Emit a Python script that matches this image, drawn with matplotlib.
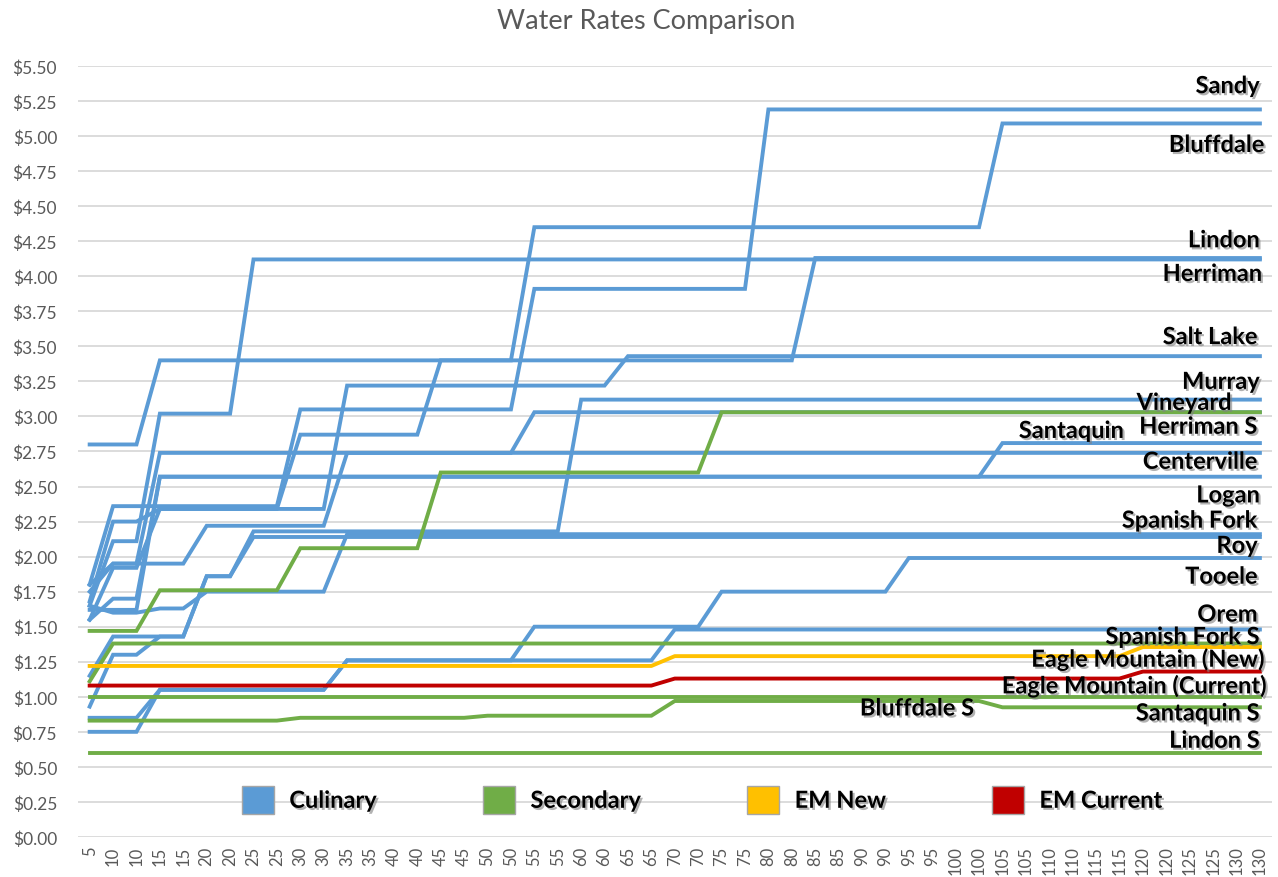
import matplotlib
matplotlib.use("Agg")
import matplotlib.pyplot as plt
import matplotlib.patheffects as pe
from matplotlib.patches import Patch

# category axis: 5, then every level twice
categories = ["5", "10", "10", "15", "15", "20", "20", "25", "25", "30", "30",
              "35", "35", "40", "40", "45", "45", "50", "50", "55", "55",
              "60", "60", "65", "65", "70", "70", "75", "75", "80", "80",
              "85", "85", "90", "90", "95", "95", "100", "100", "105", "105",
              "110", "110", "115", "115", "120", "120", "125", "125", "130", "130"]

# rate per level (5, 10, 15 ... 130)
levels = ["5", "10", "15", "20", "25", "30", "35", "40", "45", "50", "55", "60", "65",
          "70", "75", "80", "85", "90", "95", "100", "105", "110", "115", "120", "125", "130"]

sandy = [1.80, 2.36, 2.36, 2.36, 2.36, 3.05, 3.05, 3.05, 3.05, 3.05, 3.91, 3.91, 3.91,
         3.91, 3.91, 5.19, 5.19, 5.19, 5.19, 5.19, 5.19, 5.19, 5.19, 5.19, 5.19, 5.19]
bluffdale = [2.80, 2.80, 3.40, 3.40, 3.40, 3.40, 3.40, 3.40, 3.40, 3.40, 4.35, 4.35, 4.35,
             4.35, 4.35, 4.35, 4.35, 4.35, 4.35, 4.35, 5.09, 5.09, 5.09, 5.09, 5.09, 5.09]
lindon = [1.65, 2.11, 3.02, 3.02, 4.12, 4.12, 4.12, 4.12, 4.12, 4.12, 4.12, 4.12, 4.12,
          4.12, 4.12, 4.12, 4.12, 4.12, 4.12, 4.12, 4.12, 4.12, 4.12, 4.12, 4.12, 4.12]
herriman = [1.68, 2.25, 2.34, 2.34, 2.34, 2.87, 2.87, 2.87, 3.40, 3.40, 3.40, 3.40, 3.40,
            3.40, 3.40, 3.40, 4.13, 4.13, 4.13, 4.13, 4.13, 4.13, 4.13, 4.13, 4.13, 4.13]
salt_lake = [1.55, 1.92, 2.34, 2.34, 2.34, 2.34, 3.22, 3.22, 3.22, 3.22, 3.22, 3.22, 3.43,
             3.43, 3.43, 3.43, 3.43, 3.43, 3.43, 3.43, 3.43, 3.43, 3.43, 3.43, 3.43, 3.43]
murray = [0.93, 1.30, 1.43, 1.86, 2.18, 2.18, 2.18, 2.18, 2.18, 2.18, 2.18, 3.12, 3.12,
          3.12, 3.12, 3.12, 3.12, 3.12, 3.12, 3.12, 3.12, 3.12, 3.12, 3.12, 3.12, 3.12]
vineyard = [1.80, 1.95, 1.95, 2.22, 2.22, 2.22, 2.74, 2.74, 2.74, 2.74, 3.03, 3.03, 3.03,
            3.03, 3.03, 3.03, 3.03, 3.03, 3.03, 3.03, 3.03, 3.03, 3.03, 3.03, 3.03, 3.03]
santaquin = [1.62, 1.62, 2.57, 2.57, 2.57, 2.57, 2.57, 2.57, 2.57, 2.57, 2.57, 2.57, 2.57,
             2.57, 2.57, 2.57, 2.57, 2.57, 2.57, 2.57, 2.81, 2.81, 2.81, 2.81, 2.81, 2.81]
centerville = [1.75, 1.95, 2.74, 2.74, 2.74, 2.74, 2.74, 2.74, 2.74, 2.74, 2.74, 2.74, 2.74,
               2.74, 2.74, 2.74, 2.74, 2.74, 2.74, 2.74, 2.74, 2.74, 2.74, 2.74, 2.74, 2.74]
logan = [1.55, 1.70, 2.57, 2.57, 2.57, 2.57, 2.57, 2.57, 2.57, 2.57, 2.57, 2.57, 2.57,
         2.57, 2.57, 2.57, 2.57, 2.57, 2.57, 2.57, 2.57, 2.57, 2.57, 2.57, 2.57, 2.57]
spanish_fork = [1.65, 1.60, 1.63, 1.75, 1.75, 1.75, 2.16, 2.16, 2.16, 2.16, 2.16, 2.16, 2.16,
                2.16, 2.16, 2.16, 2.16, 2.16, 2.16, 2.16, 2.16, 2.16, 2.16, 2.16, 2.16, 2.16]
roy = [1.15, 1.43, 1.43, 1.86, 2.14, 2.14, 2.14, 2.14, 2.14, 2.14, 2.14, 2.14, 2.14,
       2.14, 2.14, 2.14, 2.14, 2.14, 2.14, 2.14, 2.14, 2.14, 2.14, 2.14, 2.14, 2.14]
tooele = [0.75, 0.75, 1.05, 1.05, 1.05, 1.05, 1.26, 1.26, 1.26, 1.26, 1.50, 1.50, 1.50,
          1.50, 1.75, 1.75, 1.75, 1.75, 1.99, 1.99, 1.99, 1.99, 1.99, 1.99, 1.99, 1.99]
orem = [0.85, 0.85, 1.05, 1.05, 1.05, 1.05, 1.26, 1.26, 1.26, 1.26, 1.26, 1.26, 1.26,
        1.48, 1.48, 1.48, 1.48, 1.48, 1.48, 1.48, 1.48, 1.48, 1.48, 1.48, 1.48, 1.48]

herriman_s = [1.47, 1.47, 1.76, 1.76, 1.76, 2.06, 2.06, 2.06, 2.60, 2.60, 2.60, 2.60, 2.60,
              2.60, 3.03, 3.03, 3.03, 3.03, 3.03, 3.03, 3.03, 3.03, 3.03, 3.03, 3.03, 3.03]
spanish_fork_s = [1.11, 1.38, 1.38, 1.38, 1.38, 1.38, 1.38, 1.38, 1.38, 1.38, 1.38, 1.38, 1.38,
                  1.38, 1.38, 1.38, 1.38, 1.38, 1.38, 1.38, 1.38, 1.38, 1.38, 1.38, 1.38, 1.38]
bluffdale_s = [1.00, 1.00, 1.00, 1.00, 1.00, 1.00, 1.00, 1.00, 1.00, 1.00, 1.00, 1.00, 1.00,
               1.00, 1.00, 1.00, 1.00, 1.00, 1.00, 1.00, 1.00, 1.00, 1.00, 1.00, 1.00, 1.00]
santaquin_s = [0.83, 0.83, 0.83, 0.83, 0.83, 0.85, 0.85, 0.85, 0.85, 0.865, 0.865, 0.865, 0.865,
               0.97, 0.97, 0.97, 0.97, 0.97, 0.97, 0.97, 0.925, 0.925, 0.925, 0.925, 0.925, 0.925]
lindon_s = [0.60, 0.60, 0.60, 0.60, 0.60, 0.60, 0.60, 0.60, 0.60, 0.60, 0.60, 0.60, 0.60,
            0.60, 0.60, 0.60, 0.60, 0.60, 0.60, 0.60, 0.60, 0.60, 0.60, 0.60, 0.60, 0.60]

em_new = [1.22, 1.22, 1.22, 1.22, 1.22, 1.22, 1.22, 1.22, 1.22, 1.22, 1.22, 1.22, 1.22,
          1.29, 1.29, 1.29, 1.29, 1.29, 1.29, 1.29, 1.29, 1.29, 1.29, 1.355, 1.355, 1.355]
em_current = [1.08, 1.08, 1.08, 1.08, 1.08, 1.08, 1.08, 1.08, 1.08, 1.08, 1.08, 1.08, 1.08,
              1.13, 1.13, 1.13, 1.13, 1.13, 1.13, 1.13, 1.13, 1.13, 1.13, 1.18, 1.18, 1.18]

culinary = [sandy, bluffdale, lindon, herriman, salt_lake, murray, vineyard, santaquin,
            centerville, logan, spanish_fork, roy, tooele, orem]
secondary = [herriman_s, spanish_fork_s, bluffdale_s, santaquin_s, lindon_s]

# end labels: text, category position of right edge, y position
label_text = ["Sandy", "Bluffdale", "Lindon", "Herriman", "Salt Lake", "Murray", "Vineyard",
              "Herriman S", "Santaquin", "Centerville", "Logan", "Spanish Fork", "Roy",
              "Tooele", "Orem", "Spanish Fork S", "Eagle Mountain (New)",
              "Eagle Mountain (Current)", "Bluffdale S", "Santaquin S", "Lindon S"]
label_x = [50, 50.2, 50, 50.1, 49.9, 50, 48.8, 49.9, 44.2, 49.9, 50, 49.9, 49.9,
           49.9, 49.9, 50, 50.2, 50.3, 37.8, 50, 50]
label_y = [5.36, 4.94, 4.26, 4.02, 3.57, 3.25, 3.10, 2.93, 2.90, 2.68, 2.44, 2.26, 2.08,
           1.86, 1.59, 1.43, 1.27, 1.08, 0.92, 0.885, 0.69]

BLUE = "#5B9BD5"
GREEN = "#70AD47"
YELLOW = "#FFC000"
RED = "#C00000"


def expand(vals):
    lookup = dict(zip(levels, vals))
    return [lookup[c] for c in categories]


def main():
    plt.rcParams["font.family"] = ["Lato", "DejaVu Sans"]
    fig = plt.figure(figsize=(12.78, 8.78), dpi=100)
    ax = fig.add_axes([0.061, 0.0456, 0.934, 0.8781])

    x = list(range(len(categories)))
    lw = 2.8
    for s in culinary:
        ax.plot(x, expand(s), color=BLUE, lw=lw, solid_joinstyle="miter", zorder=3)
    for s in secondary:
        ax.plot(x, expand(s), color=GREEN, lw=lw, solid_joinstyle="miter", zorder=4)
    ax.plot(x, expand(em_new), color=YELLOW, lw=lw, zorder=5)
    ax.plot(x, expand(em_current), color=RED, lw=lw, zorder=6)

    ax.set_xlim(-0.5, len(categories) - 0.5)
    ax.set_ylim(0, 5.5)
    ax.set_yticks([i * 0.25 for i in range(23)])
    ax.set_yticklabels([f"${i * 0.25:.2f}" for i in range(23)])
    ax.set_xticks(x)
    ax.set_xticklabels(categories, rotation=90)
    ax.tick_params(axis="both", length=0, colors="#595959")
    ax.tick_params(axis="y", pad=15, labelsize=12.5)
    ax.tick_params(axis="x", pad=6, labelsize=12)
    ax.grid(axis="y", color="#D9D9D9", lw=1.3)
    ax.set_axisbelow(True)
    for sp in ax.spines.values():
        sp.set_visible(False)

    fig.suptitle("Water Rates Comparison", x=0.506, y=0.99, fontsize=19.5, color="#595959")

    shadow = [pe.withSimplePatchShadow(offset=(1.5, -1.5), shadow_rgbFace="#808080", alpha=0.6)]
    for t, lx, ly in zip(label_text, label_x, label_y):
        ax.text(lx, ly, t, ha="right", va="center", fontsize=17, fontweight="bold",
                color="black", path_effects=shadow, zorder=10)

    handles = [Patch(facecolor=BLUE, edgecolor="#A6A6A6", label="Culinary"),
               Patch(facecolor=GREEN, edgecolor="#A6A6A6", label="Secondary"),
               Patch(facecolor=YELLOW, edgecolor="#A6A6A6", label="EM New"),
               Patch(facecolor=RED, edgecolor="#A6A6A6", label="EM Current")]
    leg = ax.legend(handles=handles, loc="center", bbox_to_anchor=(0.523, 0.048), ncol=4,
                    frameon=False, handlelength=1.35, handleheight=1.4, handletextpad=0.65,
                    columnspacing=4.5, prop={"weight": "bold", "size": 17})
    for t in leg.get_texts():
        t.set_path_effects(shadow)

    fig.savefig("out.png", dpi=100, facecolor="white")


if __name__ == "__main__":
    main()
